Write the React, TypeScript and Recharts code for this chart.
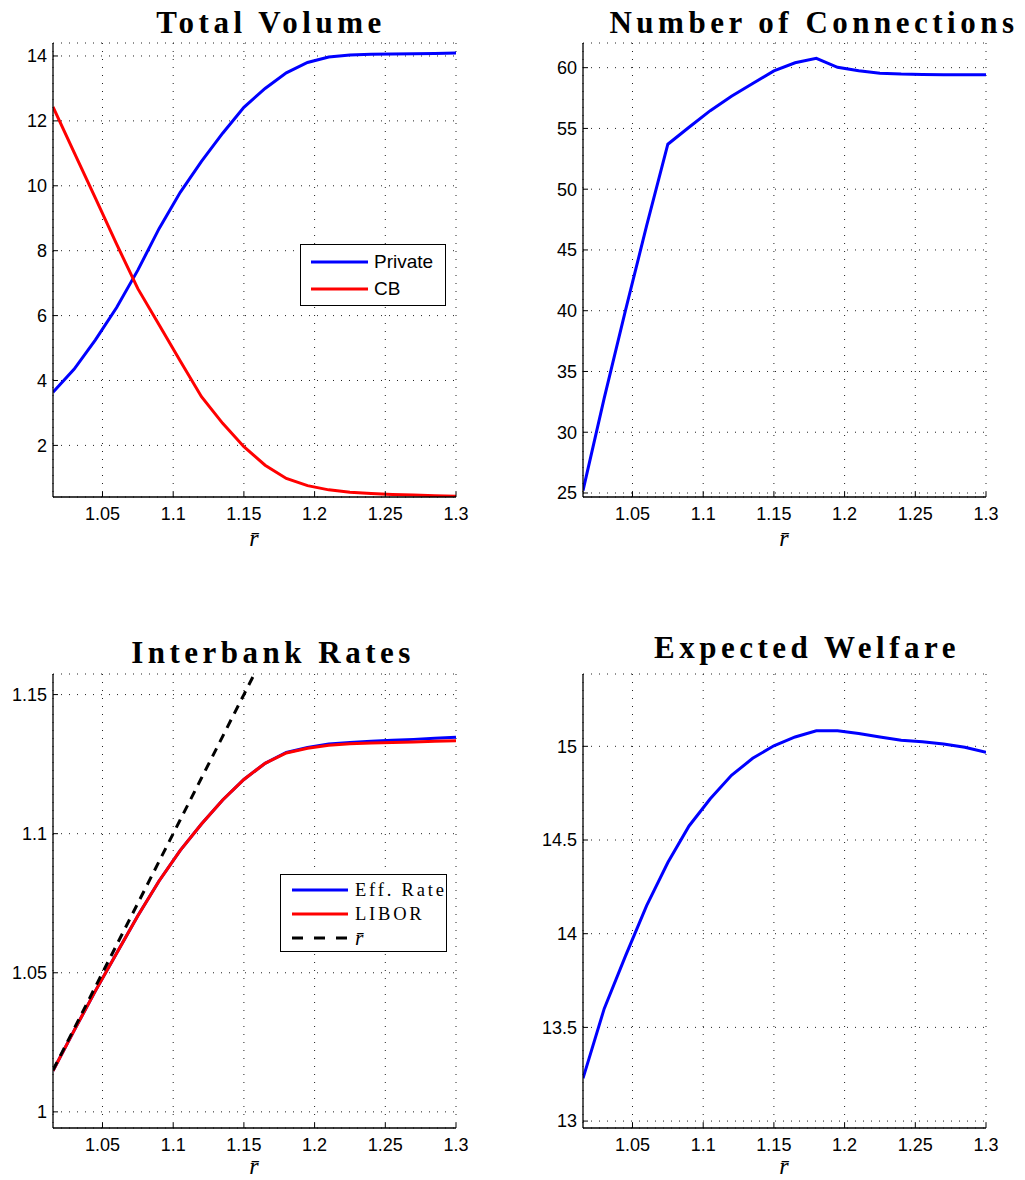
import React from 'react';
import { LineChart, Line, XAxis, YAxis, CartesianGrid, Legend } from 'recharts';

// ---------- data ----------
const rbar = [1.015, 1.03, 1.045, 1.06, 1.075, 1.09, 1.105, 1.12, 1.135, 1.15, 1.165, 1.18, 1.195, 1.21, 1.225, 1.24, 1.255, 1.27, 1.285, 1.3];
const privateVolume = [3.64, 4.35, 5.25, 6.25, 7.4, 8.68, 9.8, 10.75, 11.62, 12.42, 13.0, 13.48, 13.8, 13.97, 14.03, 14.05, 14.06, 14.07, 14.08, 14.09];
const cbVolume = [12.43, 11.02, 9.62, 8.2, 6.83, 5.72, 4.6, 3.5, 2.68, 1.96, 1.39, 0.98, 0.76, 0.63, 0.56, 0.52, 0.49, 0.47, 0.45, 0.43];
const connections = [25.2, 32.8, 40.0, 47.0, 53.7, 55.1, 56.46, 57.65, 58.7, 59.73, 60.4, 60.77, 60.03, 59.75, 59.55, 59.47, 59.43, 59.42, 59.42, 59.42];
const effRate = [1.0148, 1.0293, 1.0435, 1.057, 1.0705, 1.083, 1.094, 1.1035, 1.1121, 1.1195, 1.1253, 1.1292, 1.131, 1.1322, 1.1328, 1.1332, 1.1336, 1.1339, 1.1343, 1.1347];
const libor = [1.0148, 1.0293, 1.0435, 1.057, 1.0705, 1.083, 1.094, 1.1035, 1.1121, 1.1195, 1.1253, 1.129, 1.1307, 1.1318, 1.1323, 1.1326, 1.1328, 1.133, 1.1332, 1.1334];
const welfare = [13.228, 13.6, 13.88, 14.15, 14.38, 14.575, 14.72, 14.845, 14.936, 15.003, 15.05, 15.083, 15.083, 15.069, 15.05, 15.032, 15.025, 15.012, 14.995, 14.968];

const xTicks = [1.05, 1.1, 1.15, 1.2, 1.25, 1.3];
const volumeTicks = [2, 4, 6, 8, 10, 12, 14];
const connTicks = [25, 30, 35, 40, 45, 50, 55, 60];
const rateTicks = [1, 1.05, 1.1, 1.15];
const welfareTicks = [13, 13.5, 14, 14.5, 15];

const titles = ['Total Volume', 'Number of Connections', 'Interbank Rates', 'Expected Welfare'];
const volumeNames = ['Private', 'CB'];
const rateNames = ['Eff. Rate', 'LIBOR', 'r\u0304'];
const xLabel = 'r\u0304';

// ---------- tables ----------
const volumeData = rbar.map((x, i) => ({ x, private: privateVolume[i], cb: cbVolume[i] }));
const connData = rbar.map((x, i) => ({ x, conn: connections[i] }));
const rateData = rbar.map((x, i) => ({ x, eff: effRate[i], libor: libor[i], rbar: x }));
const welfareData = rbar.map((x, i) => ({ x, welfare: welfare[i] }));

// ---------- styles ----------
const SANS = '"Liberation Sans", Arial, Helvetica, sans-serif';
const SERIF = '"Liberation Serif", "Times New Roman", serif';
const tickStyle = { fontSize: 18, fill: '#000', fontFamily: SANS };
const axisStyle = { stroke: '#000', strokeWidth: 1.3 };
const tickLineStyle = { stroke: '#000', strokeWidth: 1 };
const PLOT_H = 454;

type PanelProps = {
  left: number; top: number; width: number; height: number;
  marginTop: number; marginRight: number;
  data: any[]; yDomain: [number, number]; yTicks: number[];
  children?: React.ReactNode;
};

function Panel({ left, top, width, height, marginTop, marginRight, data, yDomain, yTicks, children }: PanelProps) {
  const xAxisH = height - marginTop - PLOT_H;
  return (
    <div style={{ position: 'absolute', left, top, width, height }}>
      <LineChart width={width} height={height} data={data} margin={{ top: marginTop, right: marginRight, bottom: 0, left: 0 }}>
        <CartesianGrid stroke="#222" strokeDasharray="1 7" strokeWidth={1} />
        <XAxis dataKey="x" type="number" domain={[1.015, 1.3]} allowDataOverflow ticks={xTicks} interval={0}
          height={xAxisH} tickSize={-5} tickMargin={15} tick={tickStyle} axisLine={axisStyle} tickLine={tickLineStyle} />
        <XAxis xAxisId="top" orientation="top" dataKey="x" type="number" domain={[1.015, 1.3]} allowDataOverflow ticks={xTicks} interval={0}
          height={0} tickSize={-5} tick={false} axisLine={axisStyle} tickLine={tickLineStyle} />
        <YAxis type="number" domain={yDomain} allowDataOverflow ticks={yTicks} interval={0}
          width={53} tickSize={-5} tickMargin={11} tick={tickStyle} axisLine={axisStyle} tickLine={tickLineStyle} />
        <YAxis yAxisId="right" orientation="right" type="number" domain={yDomain} allowDataOverflow ticks={yTicks} interval={0}
          width={0} tickSize={-5} tick={false} axisLine={axisStyle} tickLine={tickLineStyle} />
        {children}
      </LineChart>
    </div>
  );
}

type LegendCfg = {
  order: string[]; w: number; h: number; rows: number[];
  lineX: number; lineW: number; textX: number;
  font: string; fontSize: number; letterSpacing: number;
};

function makeLegend(cfg: LegendCfg) {
  return (props: any) => {
    const items = [...(props.payload || [])].sort(
      (a: any, b: any) => cfg.order.indexOf(a.value) - cfg.order.indexOf(b.value)
    );
    return (
      <div style={{ position: 'relative', width: cfg.w, height: cfg.h, border: '1.3px solid #000', background: '#fff', boxSizing: 'border-box' }}>
        {items.map((it: any, i: number) => {
          const dashed = !!(it.payload && it.payload.strokeDasharray);
          const isR = it.value === 'r\u0304';
          return (
            <div key={String(it.value)} style={{ position: 'absolute', left: 0, top: cfg.rows[i] - 12, width: '100%', height: 24 }}>
              <svg style={{ position: 'absolute', left: cfg.lineX, top: 0 }} width={cfg.lineW} height={24}>
                <line x1={0} x2={cfg.lineW} y1={12} y2={12} stroke={it.color} strokeWidth={3.2}
                  strokeDasharray={dashed ? '11 11' : undefined} />
              </svg>
              <span style={{
                position: 'absolute', left: cfg.textX, top: 0, lineHeight: '24px', whiteSpace: 'nowrap',
                fontFamily: cfg.font, fontSize: isR ? cfg.fontSize + 3 : cfg.fontSize,
                letterSpacing: isR ? 0 : cfg.letterSpacing, fontStyle: isR ? 'italic' : 'normal', color: '#000',
              }}>{it.value}</span>
            </div>
          );
        })}
      </div>
    );
  };
}

const volumeLegend = makeLegend({
  order: volumeNames, w: 146, h: 62, rows: [16.5, 44], lineX: 10, lineW: 57, textX: 73,
  font: SANS, fontSize: 19, letterSpacing: 0,
});
const rateLegend = makeLegend({
  order: rateNames, w: 167, h: 78, rows: [15, 38.5, 62.5], lineX: 11, lineW: 56, textX: 74,
  font: SERIF, fontSize: 18.5, letterSpacing: 2.8,
});

export default function App() {
  return (
    <div style={{ position: 'absolute', left: 0, top: 0, width: 1025, height: 1180, background: '#fff', overflow: 'hidden' }}>
      <Panel left={0} top={0} width={480} height={560} marginTop={43} marginRight={24}
        data={volumeData} yDomain={[0.41, 14.4]} yTicks={volumeTicks}>
        <Line type="linear" dataKey="private" name={volumeNames[0]} stroke="#0000ff" strokeWidth={3} dot={false} activeDot={false} isAnimationActive={false} />
        <Line type="linear" dataKey="cb" name={volumeNames[1]} stroke="#ff0000" strokeWidth={3} dot={false} activeDot={false} isAnimationActive={false} />
        <Legend layout="vertical" verticalAlign="middle" align="center"
          wrapperStyle={{ left: 300, top: 244, width: 146, height: 62 }} content={volumeLegend} />
      </Panel>

      <Panel left={530} top={0} width={495} height={560} marginTop={43} marginRight={39}
        data={connData} yDomain={[24.67, 62.03]} yTicks={connTicks}>
        <Line type="linear" dataKey="conn" name="connections" stroke="#0000ff" strokeWidth={3} dot={false} activeDot={false} isAnimationActive={false} />
      </Panel>

      <Panel left={0} top={620} width={480} height={560} marginTop={54} marginRight={24}
        data={rateData} yDomain={[0.9942, 1.1574]} yTicks={rateTicks}>
        <Line type="linear" dataKey="eff" name={rateNames[0]} stroke="#0000ff" strokeWidth={3} dot={false} activeDot={false} isAnimationActive={false} />
        <Line type="linear" dataKey="libor" name={rateNames[1]} stroke="#ff0000" strokeWidth={3} dot={false} activeDot={false} isAnimationActive={false} />
        <Line type="linear" dataKey="rbar" name={rateNames[2]} stroke="#000000" strokeWidth={3} strokeDasharray="9 7" dot={false} activeDot={false} isAnimationActive={false} />
        <Legend layout="vertical" verticalAlign="middle" align="center"
          wrapperStyle={{ left: 280, top: 254, width: 167, height: 78 }} content={rateLegend} />
      </Panel>

      <Panel left={530} top={620} width={495} height={560} marginTop={54} marginRight={39}
        data={welfareData} yDomain={[12.963, 15.386]} yTicks={welfareTicks}>
        <Line type="linear" dataKey="welfare" name="welfare" stroke="#0000ff" strokeWidth={3} dot={false} activeDot={false} isAnimationActive={false} />
      </Panel>

      <svg width={1025} height={1180} style={{ position: 'absolute', left: 0, top: 0, pointerEvents: 'none' }}>
        <g fontFamily={SERIF} fontWeight="bold" fontSize={31} letterSpacing={4.5} textAnchor="middle" fill="#000">
          <text x={271} y={33}>{titles[0]}</text>
          <text x={814} y={33}>{titles[1]}</text>
          <text x={273} y={663}>{titles[2]}</text>
          <text x={807} y={658}>{titles[3]}</text>
        </g>
        <g fontFamily={SERIF} fontStyle="italic" fontSize={24} textAnchor="middle" fill="#000">
          <text x={254} y={546}>{xLabel}</text>
          <text x={784} y={546}>{xLabel}</text>
          <text x={254} y={1174}>{xLabel}</text>
          <text x={784} y={1174}>{xLabel}</text>
        </g>
      </svg>
    </div>
  );
}
